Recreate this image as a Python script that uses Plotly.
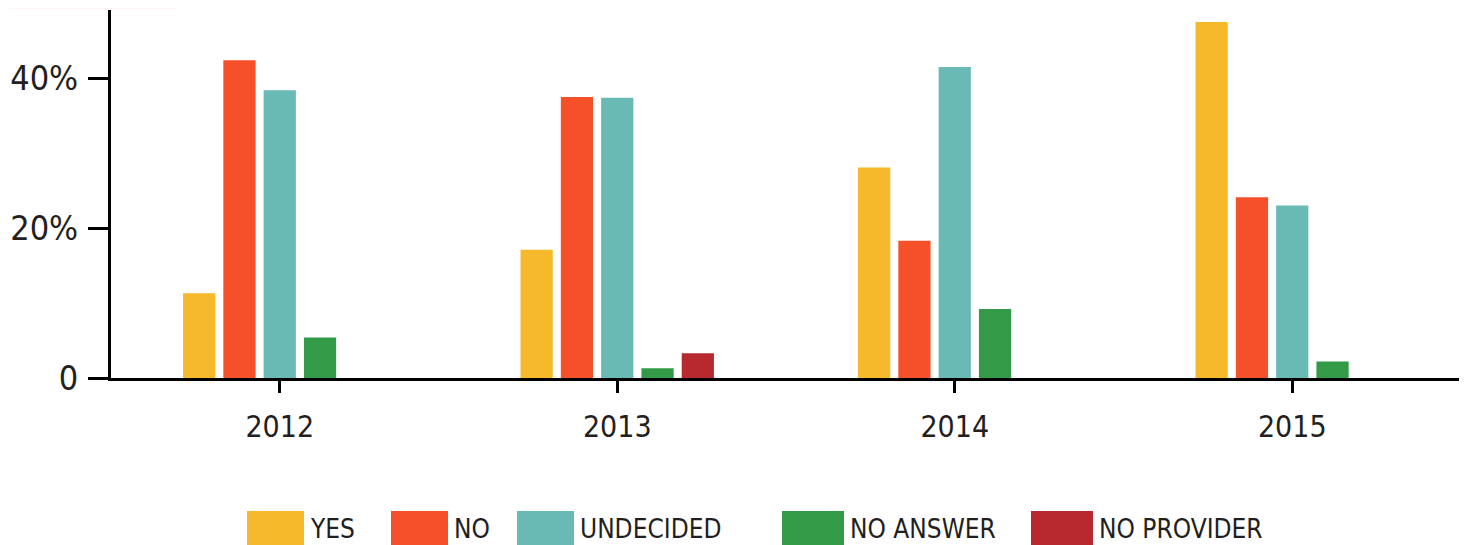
import plotly.graph_objects as go

years = ["2012", "2013", "2014", "2015"]
series_names = ["YES", "NO", "UNDECIDED", "NO ANSWER", "NO PROVIDER"]
yes = [11.3, 17.1, 28.1, 47.5]
no = [42.4, 37.5, 18.3, 24.1]
undecided = [38.4, 37.4, 41.5, 23.0]
no_answer = [5.4, 1.3, 9.2, 2.2]
no_provider = [None, 3.3, None, None]
colors = ["#f6b92b", "#f6502b", "#69b9b5", "#339a48", "#b8292f"]
y_tickvals = [0, 20, 40]
y_ticktext = ["0", "20%", "40%"]

# the page body adds an 8px offset; figure sized to fit the window
OFF = 8
W, H = 1467 - OFF, 545 - OFF
ML, MR, MT, MB = 103, 6, 2, 167
PW, PH = W - ML - MR, H - MT - MB
FONT = "DejaVu Sans Condensed, Liberation Sans Narrow, sans-serif"
TXT = "#231f20"

fig = go.Figure()
for name, vals, col in zip(series_names, [yes, no, undecided, no_answer, no_provider], colors):
    fig.add_trace(go.Bar(x=years, y=vals, name=name, marker=dict(color=col, line=dict(width=0)),
                         showlegend=False))

# page-pixel -> paper conversion
def px_x(px):
    return (px - OFF - ML) / PW

def px_y(py):
    return (H - MB - (py - OFF)) / PH

shapes = []
annotations = []
# custom legend with large swatches
legend_x = [247, 391, 517, 782, 1031]
legend_w = [57, 57, 57, 62, 62]
sw_top, sw_bot = 511, 545
for name, col, lx, lw in zip(series_names, colors, legend_x, legend_w):
    shapes.append(dict(type="rect", xref="paper", yref="paper",
                       x0=px_x(lx), x1=px_x(lx + lw), y0=px_y(sw_bot), y1=px_y(sw_top),
                       fillcolor=col, line=dict(width=0), layer="above"))
    annotations.append(dict(xref="paper", yref="paper", x=px_x(lx + lw + 4), y=px_y(529),
                            xanchor="left", yanchor="middle", text=name, showarrow=False,
                            font=dict(family=FONT, size=26, color=TXT)))
# faint pink band at top-left
shapes.append(dict(type="rect", xref="paper", yref="paper", x0=px_x(OFF), x1=px_x(175),
                   y0=px_y(9), y1=px_y(OFF), fillcolor="#fff4f2", line=dict(width=0)))

fig.update_layout(
    width=W, height=H,
    margin=dict(l=ML, r=MR, t=MT, b=MB, autoexpand=False),
    paper_bgcolor="white", plot_bgcolor="white",
    barmode="group", bargap=0.403, bargroupgap=0.2,
    font=dict(family=FONT, color=TXT),
    shapes=shapes, annotations=annotations,
    showlegend=False,
)
fig.update_xaxes(automargin=False, showline=True, linecolor="black", linewidth=3, ticks="outside",
                 ticklen=12, tickwidth=3, tickcolor="black", showgrid=False, zeroline=False,
                 tickfont=dict(family=FONT, size=30, color=TXT), ticklabelstandoff=8)
fig.update_yaxes(automargin=False, range=[0, 49.1], showline=True, linecolor="black", linewidth=3,
                 ticks="outside", ticklen=20, tickwidth=3, tickcolor="black", showgrid=False,
                 zeroline=False, tickvals=y_tickvals, ticktext=y_ticktext,
                 tickfont=dict(family=FONT, size=34, color=TXT), ticklabelstandoff=3)

fig.write_html("out.html")
